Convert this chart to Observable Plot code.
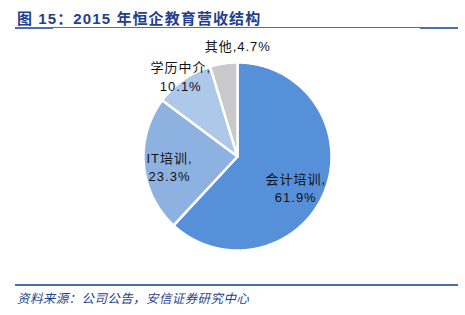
<!DOCTYPE html>
<html><head><meta charset="utf-8">
<script src="https://cdn.jsdelivr.net/npm/d3@7"></script>
<script src="https://cdn.jsdelivr.net/npm/@observablehq/plot@0.6"></script>
<style>
body{margin:0;background:#fff;}
#wrap{position:relative;width:465px;height:315px;overflow:hidden;font-family:"Liberation Sans","Noto Sans CJK SC",sans-serif;}
#title{position:absolute;left:17px;top:7px;font-size:15px;font-weight:bold;color:#1F3F8F;letter-spacing:1.1px;white-space:nowrap;font-family:"Liberation Sans","Noto Sans CJK SC",sans-serif;}
.ln{position:absolute;background:#4A6DB3;}
#src{position:absolute;left:17px;top:288px;font-size:12.5px;font-style:italic;color:#1F3F8F;letter-spacing:0.4px;white-space:nowrap;font-family:"Noto Sans CJK SC",sans-serif;}
#chart{position:absolute;left:0;top:0;}
#chart svg text{letter-spacing:1px;}
</style></head>
<body>
<div id="wrap">
  <div id="chart"></div>
  <div id="title">图 15：2015 年恒企教育营收结构</div>
  <div class="ln" style="left:15px;top:27px;width:443px;height:1px;"></div>
  <div class="ln" style="left:15px;top:27px;width:38px;height:2px;"></div>
  <div class="ln" style="left:420px;top:27px;width:38px;height:2px;"></div>
  <div class="ln" style="left:15px;top:284px;width:443px;height:2px;"></div>
  <div id="src">资料来源：公司公告，安信证券研究中心</div>
</div>
<script>
const categories = ["会计培训", "IT培训", "学历中介", "其他"];
const values = [61.9, 23.3, 10.1, 4.7];
const valueLabels = ["61.9%", "23.3%", "10.1%", "4.7%"];
const colors = ["#5690D8", "#8DB2E2", "#AEC8EA", "#C9C9C9"];

// build slice polygons (angle measured clockwise from 12 o'clock)
const total = d3.sum(values);
const slices = [];
const labels = [];
let acc = 0;
categories.forEach((c, i) => {
  const a0 = acc / total * 2 * Math.PI;
  acc += values[i];
  const a1 = acc / total * 2 * Math.PI;
  slices.push({cat: c, x: 0, y: 0});
  const n = Math.max(2, Math.ceil((a1 - a0) / (Math.PI / 360)));
  for (let k = 0; k <= n; k++) {
    const a = a0 + (a1 - a0) * k / n;
    slices.push({cat: c, x: Math.sin(a), y: Math.cos(a)});
  }
  slices.push({cat: c, x: 0, y: 0});
  const mid = (a0 + a1) / 2;
  labels.push({cat: c, mid, i});
});

// label placement (layout)
const rFactor = [0.7, 0.73, 1.05, 1.18];
const angShift = [0.11, -0.05, 0, 0.15];
const labelData = labels.map(d => {
  const a = d.mid + angShift[d.i];
  const r = rFactor[d.i];
  const text = d.i === 3 ? `${d.cat},${valueLabels[d.i]}` : `${d.cat},\n${valueLabels[d.i]}`;
  return {text, x: r * Math.sin(a), y: r * Math.cos(a)};
});

const chart = Plot.plot({
  width: 465,
  height: 315,
  margin: 0,
  x: {domain: [-1, 1], range: [143, 331], axis: null},
  y: {domain: [-1, 1], range: [250, 62], axis: null},
  color: {domain: categories, range: colors},
  style: {background: "transparent", overflow: "visible"},
  marks: [
    Plot.line(slices, {x: "x", y: "y", z: "cat", fill: "cat", stroke: "white", strokeWidth: 2.5, strokeLinejoin: "round", curve: "linear"}),
    Plot.text(labelData, {x: "x", y: "y", text: "text", fill: "#111", fontSize: 13, lineHeight: 1.4, fontFamily: "'Liberation Sans','Noto Sans CJK SC',sans-serif"})
  ]
});
document.getElementById("chart").appendChild(chart);
</script>
</body></html>
